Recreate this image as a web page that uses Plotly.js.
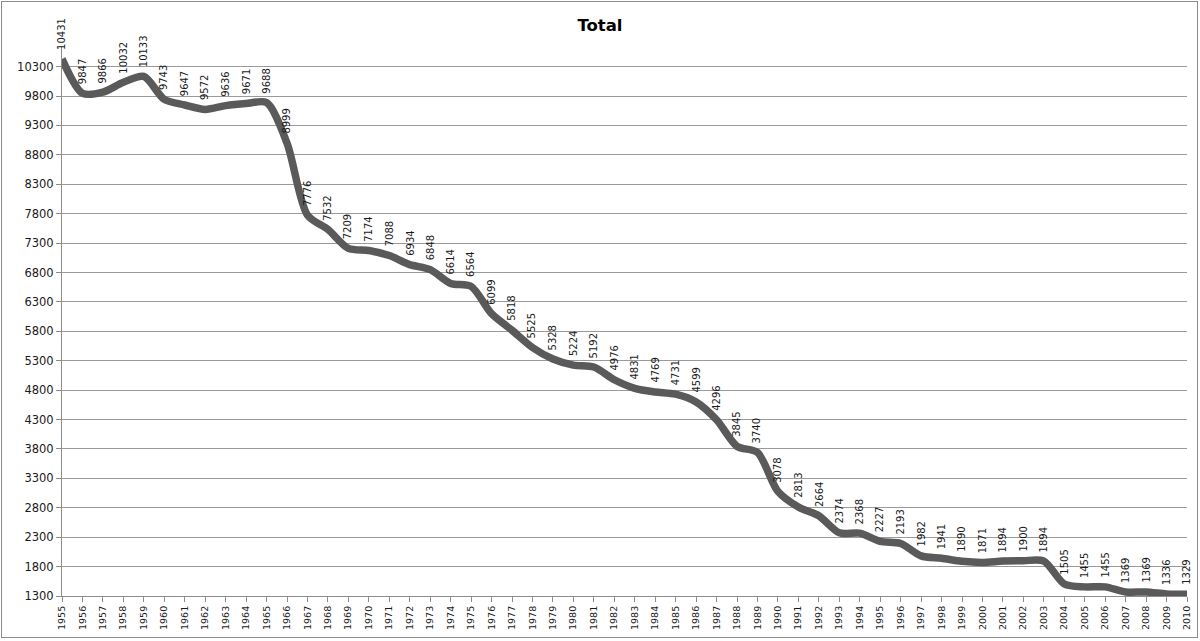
<!DOCTYPE html>
<html>
<head>
<meta charset="utf-8">
<script src="https://cdn.plot.ly/plotly-3.0.1.min.js"></script>
<style>
  body { margin: 0; background: #fff; }
  #wrap { position: relative; width: 1200px; height: 641px; }
  #chart { width: 1200px; height: 641px; }
  #frame { position: absolute; left: 1px; top: 1px; width: 1195px; height: 635px; border: 1px solid #8c8c8c; pointer-events: none; }
</style>
</head>
<body>
<div id="wrap"><div id="chart"></div><div id="frame"></div></div>
<script>
const years = [1955,1956,1957,1958,1959,1960,1961,1962,1963,1964,1965,1966,1967,1968,1969,1970,1971,1972,1973,1974,1975,1976,1977,1978,1979,1980,1981,1982,1983,1984,1985,1986,1987,1988,1989,1990,1991,1992,1993,1994,1995,1996,1997,1998,1999,2000,2001,2002,2003,2004,2005,2006,2007,2008,2009,2010];
const totals = [10431,9847,9866,10032,10133,9743,9647,9572,9636,9671,9688,8999,7776,7532,7209,7174,7088,6934,6848,6614,6564,6099,5818,5525,5328,5224,5192,4976,4831,4769,4731,4599,4296,3845,3740,3078,2813,2664,2374,2368,2227,2193,1982,1941,1890,1871,1894,1900,1894,1505,1455,1455,1369,1369,1336,1329];
const yTicks = [1300,1800,2300,2800,3300,3800,4300,4800,5300,5800,6300,6800,7300,7800,8300,8800,9300,9800,10300];
const chartTitle = "Total";

const trace = {
  x: years,
  y: totals,
  type: 'scatter',
  mode: 'lines',
  line: { color: '#5a5a5a', width: 7.5, shape: 'spline', smoothing: 0.8 },
  hoverinfo: 'x+y',
  cliponaxis: false
};

const annotations = years.map((yr, i) => ({
  x: yr, y: totals[i], xref: 'x', yref: 'y',
  text: String(totals[i]),
  textangle: -90,
  showarrow: false,
  xanchor: 'center', yanchor: 'bottom',
  yshift: 7,
  font: { family: 'DejaVu Sans, sans-serif', size: 10, color: '#1a1a1a' }
}));

const layout = {
  width: 1200, height: 641,
  margin: { l: 62, r: 13, t: 46, b: 45 },
  paper_bgcolor: '#ffffff',
  plot_bgcolor: '#ffffff',
  showlegend: false,
  title: {
    text: '<b>' + chartTitle + '</b>',
    x: 0.5, xanchor: 'center', y: 0.96, yanchor: 'middle',
    font: { family: 'DejaVu Sans, sans-serif', size: 16.5, color: '#000' }
  },
  xaxis: {
    range: [1955, 2010],
    tickmode: 'array', tickvals: years, ticktext: years.map(String),
    tickangle: -90,
    ticks: 'outside', ticklen: 5, tickcolor: '#8c8c8c',
    showgrid: false, zeroline: false,
    showline: true, linecolor: '#8c8c8c', linewidth: 1,
    tickfont: { family: 'DejaVu Sans, sans-serif', size: 9.5, color: '#1a1a1a' }
  },
  yaxis: {
    range: [1300, 10650],
    tickmode: 'array', tickvals: yTicks, ticktext: yTicks.map(String),
    ticks: 'outside', ticklen: 5, tickcolor: '#8c8c8c',
    showgrid: true, gridcolor: '#9a9a9a', gridwidth: 1,
    zeroline: false,
    showline: true, linecolor: '#8c8c8c', linewidth: 1,
    tickfont: { family: 'DejaVu Sans, sans-serif', size: 11.5, color: '#1a1a1a' }
  },
  annotations: annotations
};

Plotly.newPlot('chart', [trace], layout, { displayModeBar: false, staticPlot: true });
</script>
</body>
</html>
